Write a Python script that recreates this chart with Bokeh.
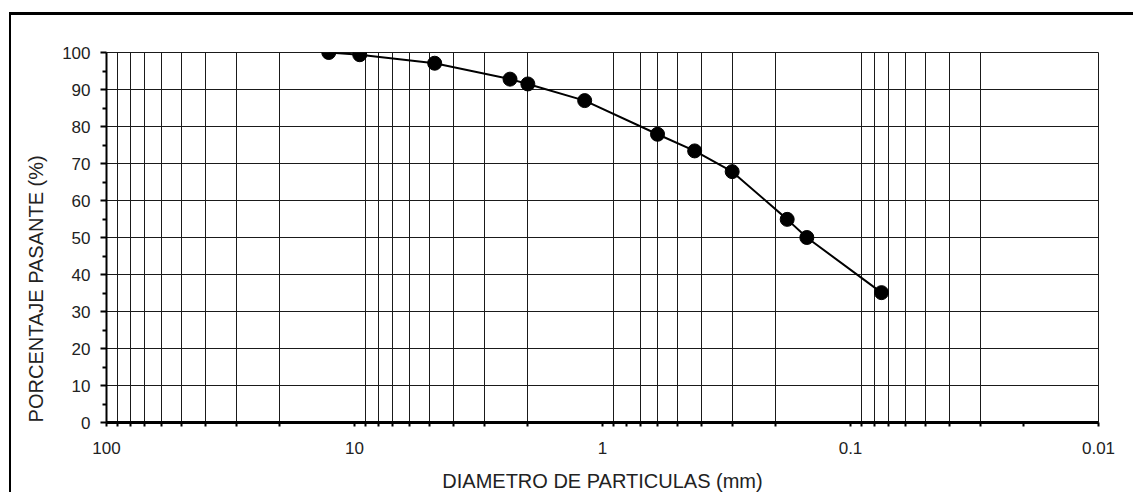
import math
from bokeh.plotting import figure
from bokeh.layouts import row
from bokeh.models import Range1d, FixedTicker, Grid, CustomJSTickFormatter
from bokeh.core.properties import value
from bokeh.embed import file_html
from bokeh.resources import INLINE

# Data
diametro = [12.7, 9.525, 4.75, 2.36, 2.0, 1.18, 0.6, 0.425, 0.3, 0.18, 0.15, 0.075]
pasante = [100.0, 99.4, 97.1, 92.8, 91.5, 87.0, 77.9, 73.4, 67.8, 54.9, 50.0, 35.1]

x_major = [100, 10, 1, 0.1, 0.01]
y_ticks = [0, 10, 20, 30, 40, 50, 60, 70, 80, 90, 100]
y_title = "PORCENTAJE  PASANTE (%)"
x_title = "DIAMETRO DE PARTICULAS (mm)"

FONT = "Liberation Sans"
GRID = "#1a1a1a"
TXT = "#222222"
H = 480
TW = 45

# narrow panel holding the rotated y title
tfig = figure(width=TW, height=H, x_range=Range1d(0, TW), y_range=Range1d(0, H),
              output_backend="svg", toolbar_location=None,
              min_border=0, outline_line_color=None)
tfig.axis.visible = False
tfig.grid.visible = False
tfig.text(x=[TW / 2 + 2], y=[H / 2 - 63], text=[y_title], angle=math.pi / 2,
          text_align="center", text_baseline="middle",
          text_font=value(FONT), text_font_size="20px", text_color=TXT)

p = figure(width=1124 - TW, height=H, x_axis_type="log",
           x_range=Range1d(100, 0.01), y_range=Range1d(0, 100),
           output_backend="svg", toolbar_location=None,
           min_border_left=95 - TW, min_border_right=37,
           min_border_top=37, min_border_bottom=73)

p.outline_line_color = GRID
p.outline_line_width = 1

minor = [round(m * 10 ** e, 6) for e in range(-2, 2) for m in range(2, 10)]
skip = {0.8, 0.02}
grid_vals = [v for v in minor if v not in skip]

p.xaxis.ticker = FixedTicker(ticks=x_major, minor_ticks=minor)
p.xaxis.formatter = CustomJSTickFormatter(code="return String(tick);")
p.yaxis.ticker = FixedTicker(ticks=y_ticks, minor_ticks=[5 + 10 * i for i in range(10)])

p.xgrid.grid_line_color = None
p.add_layout(Grid(dimension=0, ticker=FixedTicker(ticks=grid_vals),
                  grid_line_color=GRID, grid_line_width=1))
p.ygrid.grid_line_color = GRID
p.ygrid.grid_line_width = 1

for ax in (p.xaxis[0], p.yaxis[0]):
    ax.axis_line_color = "black"
    ax.major_tick_line_color = "black"
    ax.minor_tick_line_color = "black"
    ax.major_tick_in = 0
    ax.minor_tick_in = 0
    ax.major_label_text_font = FONT
    ax.major_label_text_font_size = "17px"
    ax.major_label_text_color = TXT
    ax.axis_label_text_font = FONT
    ax.axis_label_text_font_style = "normal"
    ax.axis_label_text_font_size = "20px"
    ax.axis_label_text_color = TXT

p.xaxis.axis_line_width = 3
p.xaxis.major_tick_out = 4
p.xaxis.minor_tick_out = 4
p.xaxis.major_tick_line_width = 2
p.xaxis.minor_tick_line_width = 2
p.xaxis.major_label_standoff = 15
p.xaxis.axis_label = x_title
p.xaxis.axis_label_standoff = 13

p.yaxis.axis_line_width = 2
p.yaxis.major_tick_out = 6
p.yaxis.minor_tick_out = 4
p.yaxis.major_tick_line_width = 2
p.yaxis.minor_tick_line_width = 2
p.yaxis.major_label_standoff = 10

p.line(diametro, pasante, line_color="black", line_width=2)
p.scatter(diametro, pasante, size=14, fill_color="black", line_color="black")

layout = row(tfig, p, spacing=0)
layout.margin = (15, 0, 0, 11)
layout.styles = {"box-shadow": "-2px -3px 0 0 black"}

open("out.html", "w").write(file_html(layout, INLINE))
